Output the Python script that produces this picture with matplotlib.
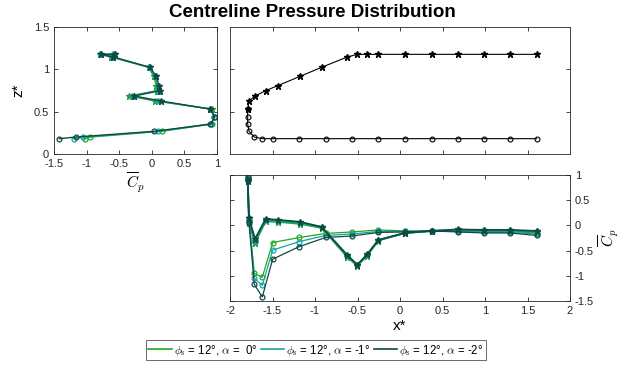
import numpy as np
import matplotlib
matplotlib.use('Agg')
import matplotlib.pyplot as plt
from matplotlib.lines import Line2D

plt.rcParams['font.family'] = ['Liberation Sans', 'DejaVu Sans']
plt.rcParams['mathtext.fontset'] = 'cm'
plt.rcParams['font.size'] = 8

# tap positions, upper line (star markers)
ux = [-1.792, -1.776, -1.706, -1.58, -1.439, -1.176, -0.922, -0.62, -0.502, -0.384,
      -0.255, 0.059, 0.373, 0.678, 0.988, 1.294, 1.608]
uz = [0.531, 0.626, 0.685, 0.748, 0.807, 0.917, 1.024, 1.146, 1.177, 1.177,
      1.177, 1.177, 1.177, 1.177, 1.177, 1.177, 1.177]
# tap positions, lower line (circle markers)
lx = [-1.792, -1.792, -1.776, -1.714, -1.62, -1.498, -1.184, -0.875, -0.565, -0.255,
      0.059, 0.373, 0.678, 0.988, 1.294, 1.608]
lz = [0.441, 0.354, 0.268, 0.2, 0.181, 0.181, 0.181, 0.181, 0.181, 0.181,
      0.181, 0.181, 0.181, 0.181, 0.181, 0.181]

# mean Cp, upper line
cp_up_a0 = [0.92, 0.05, -0.35, 0.08, 0.07, 0.03, -0.05, -0.63, -0.80, -0.60,
            -0.30, -0.15, -0.11, -0.10, -0.11, -0.11, -0.13]
cp_up_a1 = [0.90, 0.09, -0.30, 0.10, 0.09, 0.05, -0.04, -0.61, -0.79, -0.58,
            -0.29, -0.15, -0.11, -0.09, -0.10, -0.10, -0.12]
cp_up_a2 = [0.89, 0.14, -0.27, 0.13, 0.11, 0.07, -0.03, -0.59, -0.78, -0.57,
            -0.29, -0.15, -0.11, -0.08, -0.09, -0.09, -0.11]
# mean Cp, lower line
cp_lo_a0 = [0.95, 0.92, 0.15, -0.95, -1.03, -0.34, -0.24, -0.16, -0.13, -0.09,
            -0.11, -0.11, -0.11, -0.12, -0.12, -0.15]
cp_lo_a1 = [0.96, 0.91, 0.09, -1.05, -1.19, -0.49, -0.32, -0.20, -0.17, -0.12,
            -0.12, -0.11, -0.12, -0.14, -0.14, -0.17]
cp_lo_a2 = [0.97, 0.90, 0.04, -1.17, -1.42, -0.67, -0.42, -0.24, -0.21, -0.14,
            -0.13, -0.11, -0.13, -0.15, -0.15, -0.20]

labels = [r'$\phi_{\rm s}$ = 12°, $\alpha$ =  0°',
          r'$\phi_{\rm s}$ = 12°, $\alpha$ = -1°',
          r'$\phi_{\rm s}$ = 12°, $\alpha$ = -2°']
colors = ['#1fa81f', '#1a9fa6', '#0e4a44']
cp_up = [cp_up_a0, cp_up_a1, cp_up_a2]
cp_lo = [cp_lo_a0, cp_lo_a1, cp_lo_a2]

n_up_front = 10  # upper taps shown in the front-face plot
n_lo_front = 5

fig = plt.figure(figsize=(6.34, 3.72), dpi=100)
ax1 = fig.add_axes([54/634, 1-154/372, 163/634, 127/372])
ax2 = fig.add_axes([230/634, 1-154/372, 340/634, 127/372])
ax3 = fig.add_axes([230/634, 1-301/372, 340/634, 126/372])

ms_o = 3.5
ms_s = 4.5

for c, cu, cl in zip(colors, cp_up, cp_lo):
    cu = np.array(cu)
    cl = np.array(cl)
    # front face: Cp vs z
    ax1.plot(cu[:n_up_front], uz[:n_up_front], '-*', color=c, lw=1, ms=ms_s)
    ax1.plot(np.r_[cu[0], cl[:n_lo_front]], np.r_[uz[0], lz[:n_lo_front]], '-', color=c, lw=1)
    ax1.plot(cl[:n_lo_front], lz[:n_lo_front], 'o', color=c, mfc='none', ms=ms_o, mew=0.9)
    # centreline: Cp vs x
    ax3.plot(np.r_[ux[0], lx], np.r_[cu[0], cl], '-', color=c, lw=0.9)
    ax3.plot(lx, cl, 'o', color=c, mfc='none', ms=ms_o, mew=0.9)
    ax3.plot(ux, cu, '-*', color=c, lw=1.3, ms=ms_s)

# geometry
ax2.plot(np.r_[ux[0], lx], np.r_[uz[0], lz], 'k-o', lw=0.8, mfc='none', ms=ms_o, mew=0.8)
ax2.plot(ux, uz, 'k-*', lw=0.8, ms=ms_s)

for ax in (ax1, ax2, ax3):
    ax.tick_params(direction='in', top=True, right=True, length=3, width=0.6,
                   labelsize=8, colors='#262626')
    for s in ax.spines.values():
        s.set_linewidth(0.6)
        s.set_color('#262626')

ax1.set_xlim(-1.5, 1)
ax1.set_ylim(0, 1.5)
ax1.set_xticks([-1.5, -1, -0.5, 0, 0.5, 1])
ax1.set_xticklabels(['-1.5', '-1', '-0.5', '0', '0.5', '1'])
ax1.set_yticks([0, 0.5, 1, 1.5])
ax1.set_yticklabels(['0', '0.5', '1', '1.5'])
ax1.set_ylabel('z*', fontsize=11, labelpad=6)
ax1.set_xlabel(r'$\overline{C}_p$', fontsize=11, labelpad=1)

ax2.set_xlim(-2, 2)
ax2.set_ylim(0, 1.5)
ax2.set_xticks([-1.5, -1, -0.5, 0, 0.5, 1, 1.5])
ax2.set_yticks([0.5, 1])
ax2.tick_params(labelbottom=False, labelleft=False)

ax3.set_xlim(-2, 2)
ax3.set_ylim(-1.5, 1)
ax3.set_xticks([-2, -1.5, -1, -0.5, 0, 0.5, 1, 1.5, 2])
ax3.set_xticklabels(['-2', '-1.5', '-1', '-0.5', '0', '0.5', '1', '1.5', '2'])
ax3.set_yticks([-1.5, -1, -0.5, 0, 0.5, 1])
ax3.set_yticklabels(['-1.5', '-1', '-0.5', '0', '0.5', '1'])
ax3.yaxis.tick_right()
ax3.tick_params(left=True, labelleft=False, labelright=True)
ax3.yaxis.set_label_position('right')
ax3.set_ylabel(r'$\overline{C}_p$', fontsize=11, labelpad=2)
ax3.set_xlabel('x*', fontsize=11, labelpad=2)

fig.suptitle('Centreline Pressure Distribution', fontsize=13.5, fontweight='bold',
             x=312/634, y=0.99)

handles = [Line2D([], [], color=c, lw=1.2) for c in colors]
leg = fig.legend(handles, labels, loc='center', bbox_to_anchor=(316/634, 1-350/372),
                 ncol=3, fontsize=8.3, frameon=True, fancybox=False, handlelength=2.0,
                 handletextpad=0.2, columnspacing=0.3, borderpad=0.25, borderaxespad=0)
leg.get_frame().set_edgecolor('#262626')
leg.get_frame().set_linewidth(0.6)

fig.savefig('out.png', dpi=100)
